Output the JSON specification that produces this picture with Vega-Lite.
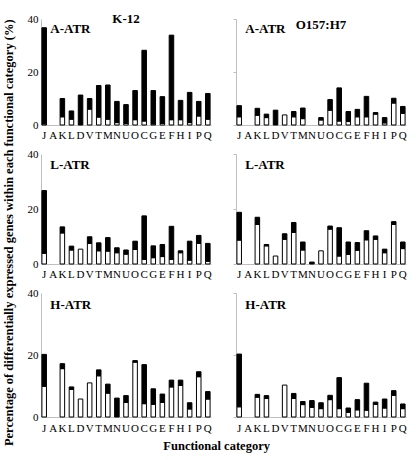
{
"$schema": "https://vega.github.io/schema/vega-lite/v6.json",
"padding": {"left": 2, "top": 13, "right": 4, "bottom": 4},
"background": "white",
"config": {
  "view": {"stroke": null},
  "font": "Liberation Serif",
  "axis": {"labelFont": "Liberation Serif", "labelColor": "#000000", "labelFontSize": 11, "domainColor": "#bfbfbf", "grid": false, "title": null},
  "title": {"font": "Liberation Serif", "fontWeight": "bold", "color": "#000000"}
},
"datasets": {
"d": [
{"s":"K-12","c":"A-ATR","cat":"J","p":"white","v":0.4},{"s":"K-12","c":"A-ATR","cat":"J","p":"black","v":36.3},
{"s":"K-12","c":"A-ATR","cat":"K","p":"white","v":3.1},{"s":"K-12","c":"A-ATR","cat":"K","p":"black","v":6.9},
{"s":"K-12","c":"A-ATR","cat":"L","p":"white","v":2.2},{"s":"K-12","c":"A-ATR","cat":"L","p":"black","v":3.1},
{"s":"K-12","c":"A-ATR","cat":"D","p":"black","v":11.3},
{"s":"K-12","c":"A-ATR","cat":"V","p":"white","v":6},{"s":"K-12","c":"A-ATR","cat":"V","p":"black","v":4},
{"s":"K-12","c":"A-ATR","cat":"T","p":"white","v":3},{"s":"K-12","c":"A-ATR","cat":"T","p":"black","v":11.9},
{"s":"K-12","c":"A-ATR","cat":"M","p":"white","v":2.2},{"s":"K-12","c":"A-ATR","cat":"M","p":"black","v":12.9},
{"s":"K-12","c":"A-ATR","cat":"N","p":"white","v":0.9},{"s":"K-12","c":"A-ATR","cat":"N","p":"black","v":8},
{"s":"K-12","c":"A-ATR","cat":"U","p":"white","v":0.6},{"s":"K-12","c":"A-ATR","cat":"U","p":"black","v":7.1},
{"s":"K-12","c":"A-ATR","cat":"O","p":"white","v":2},{"s":"K-12","c":"A-ATR","cat":"O","p":"black","v":11},
{"s":"K-12","c":"A-ATR","cat":"C","p":"white","v":1.5},{"s":"K-12","c":"A-ATR","cat":"C","p":"black","v":26.7},
{"s":"K-12","c":"A-ATR","cat":"G","p":"white","v":0.4},{"s":"K-12","c":"A-ATR","cat":"G","p":"black","v":12.6},
{"s":"K-12","c":"A-ATR","cat":"E","p":"white","v":0.6},{"s":"K-12","c":"A-ATR","cat":"E","p":"black","v":10.1},
{"s":"K-12","c":"A-ATR","cat":"F","p":"white","v":2},{"s":"K-12","c":"A-ATR","cat":"F","p":"black","v":31.9},
{"s":"K-12","c":"A-ATR","cat":"H","p":"white","v":2},{"s":"K-12","c":"A-ATR","cat":"H","p":"black","v":7.3},
{"s":"K-12","c":"A-ATR","cat":"I","p":"white","v":0.9},{"s":"K-12","c":"A-ATR","cat":"I","p":"black","v":11.4},
{"s":"K-12","c":"A-ATR","cat":"P","p":"white","v":3.4},{"s":"K-12","c":"A-ATR","cat":"P","p":"black","v":5.5},
{"s":"K-12","c":"A-ATR","cat":"Q","p":"white","v":2.2},{"s":"K-12","c":"A-ATR","cat":"Q","p":"black","v":9.7},

{"s":"O157:H7","c":"A-ATR","cat":"J","p":"white","v":3.1},{"s":"O157:H7","c":"A-ATR","cat":"J","p":"black","v":4.2},
{"s":"O157:H7","c":"A-ATR","cat":"K","p":"white","v":3.7},{"s":"O157:H7","c":"A-ATR","cat":"K","p":"black","v":2.6},
{"s":"O157:H7","c":"A-ATR","cat":"L","p":"white","v":2.8},{"s":"O157:H7","c":"A-ATR","cat":"L","p":"black","v":1.3},
{"s":"O157:H7","c":"A-ATR","cat":"D","p":"black","v":5.6},
{"s":"O157:H7","c":"A-ATR","cat":"V","p":"white","v":3.8},
{"s":"O157:H7","c":"A-ATR","cat":"T","p":"white","v":3.1},{"s":"O157:H7","c":"A-ATR","cat":"T","p":"black","v":2},
{"s":"O157:H7","c":"A-ATR","cat":"M","p":"white","v":2.4},{"s":"O157:H7","c":"A-ATR","cat":"M","p":"black","v":4},
{"s":"O157:H7","c":"A-ATR","cat":"U","p":"white","v":1.9},{"s":"O157:H7","c":"A-ATR","cat":"U","p":"black","v":0.9},
{"s":"O157:H7","c":"A-ATR","cat":"O","p":"white","v":5.6},{"s":"O157:H7","c":"A-ATR","cat":"O","p":"black","v":4},
{"s":"O157:H7","c":"A-ATR","cat":"C","p":"white","v":1.5},{"s":"O157:H7","c":"A-ATR","cat":"C","p":"black","v":12.5},
{"s":"O157:H7","c":"A-ATR","cat":"G","p":"white","v":1.3},{"s":"O157:H7","c":"A-ATR","cat":"G","p":"black","v":3.8},
{"s":"O157:H7","c":"A-ATR","cat":"E","p":"white","v":3.1},{"s":"O157:H7","c":"A-ATR","cat":"E","p":"black","v":2.8},
{"s":"O157:H7","c":"A-ATR","cat":"F","p":"white","v":3.1},{"s":"O157:H7","c":"A-ATR","cat":"F","p":"black","v":7.7},
{"s":"O157:H7","c":"A-ATR","cat":"H","p":"white","v":4.1},{"s":"O157:H7","c":"A-ATR","cat":"H","p":"black","v":0.6},
{"s":"O157:H7","c":"A-ATR","cat":"I","p":"white","v":0.8},{"s":"O157:H7","c":"A-ATR","cat":"I","p":"black","v":2},
{"s":"O157:H7","c":"A-ATR","cat":"P","p":"white","v":8.3},{"s":"O157:H7","c":"A-ATR","cat":"P","p":"black","v":1.8},
{"s":"O157:H7","c":"A-ATR","cat":"Q","p":"white","v":4.4},{"s":"O157:H7","c":"A-ATR","cat":"Q","p":"black","v":2.6},

{"s":"K-12","c":"L-ATR","cat":"J","p":"white","v":3.9},{"s":"K-12","c":"L-ATR","cat":"J","p":"black","v":22.8},
{"s":"K-12","c":"L-ATR","cat":"K","p":"white","v":11.3},{"s":"K-12","c":"L-ATR","cat":"K","p":"black","v":2.2},
{"s":"K-12","c":"L-ATR","cat":"L","p":"white","v":5.1},{"s":"K-12","c":"L-ATR","cat":"L","p":"black","v":1.4},
{"s":"K-12","c":"L-ATR","cat":"D","p":"white","v":5.4},
{"s":"K-12","c":"L-ATR","cat":"V","p":"white","v":7.5},{"s":"K-12","c":"L-ATR","cat":"V","p":"black","v":2.4},
{"s":"K-12","c":"L-ATR","cat":"T","p":"white","v":4.8},{"s":"K-12","c":"L-ATR","cat":"T","p":"black","v":2.9},
{"s":"K-12","c":"L-ATR","cat":"M","p":"white","v":4.7},{"s":"K-12","c":"L-ATR","cat":"M","p":"black","v":4.9},
{"s":"K-12","c":"L-ATR","cat":"N","p":"white","v":4.1},{"s":"K-12","c":"L-ATR","cat":"N","p":"black","v":1.8},
{"s":"K-12","c":"L-ATR","cat":"U","p":"white","v":3.6},{"s":"K-12","c":"L-ATR","cat":"U","p":"black","v":1.5},
{"s":"K-12","c":"L-ATR","cat":"O","p":"white","v":5.3},{"s":"K-12","c":"L-ATR","cat":"O","p":"black","v":3},
{"s":"K-12","c":"L-ATR","cat":"C","p":"white","v":1.7},{"s":"K-12","c":"L-ATR","cat":"C","p":"black","v":15.8},
{"s":"K-12","c":"L-ATR","cat":"G","p":"white","v":2.3},{"s":"K-12","c":"L-ATR","cat":"G","p":"black","v":4.3},
{"s":"K-12","c":"L-ATR","cat":"E","p":"white","v":2.7},{"s":"K-12","c":"L-ATR","cat":"E","p":"black","v":4.4},
{"s":"K-12","c":"L-ATR","cat":"F","p":"white","v":1.7},{"s":"K-12","c":"L-ATR","cat":"F","p":"black","v":12},
{"s":"K-12","c":"L-ATR","cat":"H","p":"white","v":4.1},{"s":"K-12","c":"L-ATR","cat":"H","p":"black","v":0.7},
{"s":"K-12","c":"L-ATR","cat":"I","p":"white","v":1.4},{"s":"K-12","c":"L-ATR","cat":"I","p":"black","v":6.9},
{"s":"K-12","c":"L-ATR","cat":"P","p":"white","v":7.5},{"s":"K-12","c":"L-ATR","cat":"P","p":"black","v":2.9},
{"s":"K-12","c":"L-ATR","cat":"Q","p":"white","v":1},{"s":"K-12","c":"L-ATR","cat":"Q","p":"black","v":6.5},

{"s":"O157:H7","c":"L-ATR","cat":"J","p":"white","v":8.7},{"s":"O157:H7","c":"L-ATR","cat":"J","p":"black","v":10.1},
{"s":"O157:H7","c":"L-ATR","cat":"K","p":"white","v":14.4},{"s":"O157:H7","c":"L-ATR","cat":"K","p":"black","v":2.6},
{"s":"O157:H7","c":"L-ATR","cat":"L","p":"white","v":6.6},{"s":"O157:H7","c":"L-ATR","cat":"L","p":"black","v":0.5},
{"s":"O157:H7","c":"L-ATR","cat":"D","p":"white","v":2.9},
{"s":"O157:H7","c":"L-ATR","cat":"V","p":"white","v":9},{"s":"O157:H7","c":"L-ATR","cat":"V","p":"black","v":2},
{"s":"O157:H7","c":"L-ATR","cat":"T","p":"white","v":11.5},{"s":"O157:H7","c":"L-ATR","cat":"T","p":"black","v":3.6},
{"s":"O157:H7","c":"L-ATR","cat":"M","p":"white","v":5.1},{"s":"O157:H7","c":"L-ATR","cat":"M","p":"black","v":2.9},
{"s":"O157:H7","c":"L-ATR","cat":"N","p":"black","v":0.7},
{"s":"O157:H7","c":"L-ATR","cat":"U","p":"white","v":4.8},
{"s":"O157:H7","c":"L-ATR","cat":"O","p":"white","v":12.7},{"s":"O157:H7","c":"L-ATR","cat":"O","p":"black","v":1.1},
{"s":"O157:H7","c":"L-ATR","cat":"C","p":"white","v":2.9},{"s":"O157:H7","c":"L-ATR","cat":"C","p":"black","v":10.3},
{"s":"O157:H7","c":"L-ATR","cat":"G","p":"white","v":3.5},{"s":"O157:H7","c":"L-ATR","cat":"G","p":"black","v":4.5},
{"s":"O157:H7","c":"L-ATR","cat":"E","p":"white","v":5},{"s":"O157:H7","c":"L-ATR","cat":"E","p":"black","v":2.8},
{"s":"O157:H7","c":"L-ATR","cat":"F","p":"white","v":8.8},{"s":"O157:H7","c":"L-ATR","cat":"F","p":"black","v":3.3},
{"s":"O157:H7","c":"L-ATR","cat":"H","p":"white","v":9},{"s":"O157:H7","c":"L-ATR","cat":"H","p":"black","v":1.2},
{"s":"O157:H7","c":"L-ATR","cat":"I","p":"white","v":4.1},{"s":"O157:H7","c":"L-ATR","cat":"I","p":"black","v":1.3},
{"s":"O157:H7","c":"L-ATR","cat":"P","p":"white","v":14.4},{"s":"O157:H7","c":"L-ATR","cat":"P","p":"black","v":1},
{"s":"O157:H7","c":"L-ATR","cat":"Q","p":"white","v":5.6},{"s":"O157:H7","c":"L-ATR","cat":"Q","p":"black","v":2.4},

{"s":"K-12","c":"H-ATR","cat":"J","p":"white","v":9.9},{"s":"K-12","c":"H-ATR","cat":"J","p":"black","v":10.3},
{"s":"K-12","c":"H-ATR","cat":"K","p":"white","v":15.6},{"s":"K-12","c":"H-ATR","cat":"K","p":"black","v":1.6},
{"s":"K-12","c":"H-ATR","cat":"L","p":"white","v":8.9},{"s":"K-12","c":"H-ATR","cat":"L","p":"black","v":0.8},
{"s":"K-12","c":"H-ATR","cat":"D","p":"white","v":5.8},
{"s":"K-12","c":"H-ATR","cat":"V","p":"white","v":11},
{"s":"K-12","c":"H-ATR","cat":"T","p":"white","v":13.3},{"s":"K-12","c":"H-ATR","cat":"T","p":"black","v":1.9},
{"s":"K-12","c":"H-ATR","cat":"M","p":"white","v":7.7},{"s":"K-12","c":"H-ATR","cat":"M","p":"black","v":2.9},
{"s":"K-12","c":"H-ATR","cat":"N","p":"black","v":6.1},
{"s":"K-12","c":"H-ATR","cat":"U","p":"white","v":4.7},{"s":"K-12","c":"H-ATR","cat":"U","p":"black","v":2.2},
{"s":"K-12","c":"H-ATR","cat":"O","p":"white","v":17.7},{"s":"K-12","c":"H-ATR","cat":"O","p":"black","v":0.5},
{"s":"K-12","c":"H-ATR","cat":"C","p":"white","v":4.3},{"s":"K-12","c":"H-ATR","cat":"C","p":"black","v":12.6},
{"s":"K-12","c":"H-ATR","cat":"G","p":"white","v":4.1},{"s":"K-12","c":"H-ATR","cat":"G","p":"black","v":5},
{"s":"K-12","c":"H-ATR","cat":"E","p":"white","v":4.7},{"s":"K-12","c":"H-ATR","cat":"E","p":"black","v":2.7},
{"s":"K-12","c":"H-ATR","cat":"F","p":"white","v":9.7},{"s":"K-12","c":"H-ATR","cat":"F","p":"black","v":2.2},
{"s":"K-12","c":"H-ATR","cat":"H","p":"white","v":10.2},{"s":"K-12","c":"H-ATR","cat":"H","p":"black","v":1.7},
{"s":"K-12","c":"H-ATR","cat":"I","p":"white","v":2.6},{"s":"K-12","c":"H-ATR","cat":"I","p":"black","v":2},
{"s":"K-12","c":"H-ATR","cat":"P","p":"white","v":13},{"s":"K-12","c":"H-ATR","cat":"P","p":"black","v":1.6},
{"s":"K-12","c":"H-ATR","cat":"Q","p":"white","v":5.8},{"s":"K-12","c":"H-ATR","cat":"Q","p":"black","v":2.4},

{"s":"O157:H7","c":"H-ATR","cat":"J","p":"white","v":3.3},{"s":"O157:H7","c":"H-ATR","cat":"J","p":"black","v":17},
{"s":"O157:H7","c":"H-ATR","cat":"K","p":"white","v":6.4},{"s":"O157:H7","c":"H-ATR","cat":"K","p":"black","v":0.9},
{"s":"O157:H7","c":"H-ATR","cat":"L","p":"white","v":6},{"s":"O157:H7","c":"H-ATR","cat":"L","p":"black","v":0.9},
{"s":"O157:H7","c":"H-ATR","cat":"V","p":"white","v":10.3},
{"s":"O157:H7","c":"H-ATR","cat":"T","p":"white","v":6},{"s":"O157:H7","c":"H-ATR","cat":"T","p":"black","v":1.6},
{"s":"O157:H7","c":"H-ATR","cat":"M","p":"white","v":4},{"s":"O157:H7","c":"H-ATR","cat":"M","p":"black","v":1},
{"s":"O157:H7","c":"H-ATR","cat":"N","p":"white","v":3.1},{"s":"O157:H7","c":"H-ATR","cat":"N","p":"black","v":2.2},
{"s":"O157:H7","c":"H-ATR","cat":"U","p":"white","v":2.7},{"s":"O157:H7","c":"H-ATR","cat":"U","p":"black","v":1.9},
{"s":"O157:H7","c":"H-ATR","cat":"O","p":"white","v":5.6},{"s":"O157:H7","c":"H-ATR","cat":"O","p":"black","v":1.4},
{"s":"O157:H7","c":"H-ATR","cat":"C","p":"white","v":2.7},{"s":"O157:H7","c":"H-ATR","cat":"C","p":"black","v":10},
{"s":"O157:H7","c":"H-ATR","cat":"G","p":"white","v":1.5},{"s":"O157:H7","c":"H-ATR","cat":"G","p":"black","v":1.4},
{"s":"O157:H7","c":"H-ATR","cat":"E","p":"white","v":2.3},{"s":"O157:H7","c":"H-ATR","cat":"E","p":"black","v":3.3},
{"s":"O157:H7","c":"H-ATR","cat":"F","p":"white","v":2.2},{"s":"O157:H7","c":"H-ATR","cat":"F","p":"black","v":8.7},
{"s":"O157:H7","c":"H-ATR","cat":"H","p":"white","v":4.1},{"s":"O157:H7","c":"H-ATR","cat":"H","p":"black","v":0.7},
{"s":"O157:H7","c":"H-ATR","cat":"I","p":"white","v":2.9},{"s":"O157:H7","c":"H-ATR","cat":"I","p":"black","v":2.9},
{"s":"O157:H7","c":"H-ATR","cat":"P","p":"white","v":7},{"s":"O157:H7","c":"H-ATR","cat":"P","p":"black","v":1.5},
{"s":"O157:H7","c":"H-ATR","cat":"Q","p":"white","v":2.7},{"s":"O157:H7","c":"H-ATR","cat":"Q","p":"black","v":1.5}
]
},
"title": {"text": "Percentage of differentially expressed genes within each functional category (%)", "orient": "left", "anchor": "middle", "fontSize": 12.5, "offset": 12},
"spacing": 8,
"vconcat": [
 {"hconcat": [
  {"width": 170, "height": 106, "title": {"text": "K-12", "fontSize": 13, "offset": -13, "frame": "group"},
   "layer": [
    {"data": {"name": "d"}, "transform": [{"filter": "datum.s === 'K-12' && datum.c === 'A-ATR'"}],
     "mark": {"type": "bar", "stroke": "#000000", "strokeWidth": 1},
     "encoding": {
      "x": {"field": "cat", "type": "nominal", "scale": {"domain": ["J","A","K","L","D","V","T","M","N","U","O","C","G","E","F","H","I","P","Q"], "paddingInner": 0.5, "paddingOuter": 0.1}, "axis": {"labelAngle": 0, "ticks": false, "labelOverlap": false, "labelPadding": 4, "labelFont": "Liberation Serif", "labelFontSize": 11}},
      "y": {"field": "v", "type": "quantitative", "stack": "zero", "scale": {"domain": [0, 40]}, "axis": {"values": [0,5,10,15,20,25,30,35,40], "ticks": false, "labelPadding": 3, "labelFont": "Liberation Serif", "labelFontSize": 11}},
      "color": {"field": "p", "type": "nominal", "scale": {"domain": ["white","black"], "range": ["#ffffff","#000000"]}, "legend": null},
      "order": {"field": "p", "sort": "descending"}}},
    {"data": {"values": [{"label": "A-ATR"}]},
     "mark": {"type": "text", "align": "left", "baseline": "alphabetic", "fontWeight": "bold", "fontSize": 13, "font": "Liberation Serif", "dx": -3},
     "encoding": {"x": {"datum": "A", "type": "nominal"}, "y": {"datum": 34.7, "type": "quantitative"}, "text": {"field": "label"}}}
   ]},
  {"width": 170, "height": 106, "title": {"text": "O157:H7", "fontSize": 13, "offset": -13, "frame": "group"},
   "layer": [
    {"data": {"name": "d"}, "transform": [{"filter": "datum.s === 'O157:H7' && datum.c === 'A-ATR'"}],
     "mark": {"type": "bar", "stroke": "#000000", "strokeWidth": 1},
     "encoding": {
      "x": {"field": "cat", "type": "nominal", "scale": {"domain": ["J","A","K","L","D","V","T","M","N","U","O","C","G","E","F","H","I","P","Q"], "paddingInner": 0.5, "paddingOuter": 0.1}, "axis": {"labelAngle": 0, "ticks": false, "labelOverlap": false, "labelPadding": 4, "labelFont": "Liberation Serif", "labelFontSize": 11}},
      "y": {"field": "v", "type": "quantitative", "stack": "zero", "scale": {"domain": [0, 40]}, "axis": {"values": [0,5,10,15,20,25,30,35,40], "labels": false, "tickSize": 3, "tickColor": "#bfbfbf"}},
      "color": {"field": "p", "type": "nominal", "scale": {"domain": ["white","black"], "range": ["#ffffff","#000000"]}, "legend": null},
      "order": {"field": "p", "sort": "descending"}}},
    {"data": {"values": [{"label": "A-ATR"}]},
     "mark": {"type": "text", "align": "left", "baseline": "alphabetic", "fontWeight": "bold", "fontSize": 13, "font": "Liberation Serif", "dx": -3},
     "encoding": {"x": {"datum": "A", "type": "nominal"}, "y": {"datum": 34.7, "type": "quantitative"}, "text": {"field": "label"}}}
   ]}
 ], "spacing": 25, "bounds": "flush"},
 {"hconcat": [
  {"width": 170, "height": 110,
   "layer": [
    {"data": {"name": "d"}, "transform": [{"filter": "datum.s === 'K-12' && datum.c === 'L-ATR'"}],
     "mark": {"type": "bar", "stroke": "#000000", "strokeWidth": 1},
     "encoding": {
      "x": {"field": "cat", "type": "nominal", "scale": {"domain": ["J","A","K","L","D","V","T","M","N","U","O","C","G","E","F","H","I","P","Q"], "paddingInner": 0.5, "paddingOuter": 0.1}, "axis": {"labelAngle": 0, "ticks": false, "labelOverlap": false, "labelPadding": 4, "labelFont": "Liberation Serif", "labelFontSize": 11}},
      "y": {"field": "v", "type": "quantitative", "stack": "zero", "scale": {"domain": [0, 40]}, "axis": {"values": [0,5,10,15,20,25,30,35,40], "ticks": false, "labelPadding": 3, "labelFont": "Liberation Serif", "labelFontSize": 11}},
      "color": {"field": "p", "type": "nominal", "scale": {"domain": ["white","black"], "range": ["#ffffff","#000000"]}, "legend": null},
      "order": {"field": "p", "sort": "descending"}}},
    {"data": {"values": [{"label": "L-ATR"}]},
     "mark": {"type": "text", "align": "left", "baseline": "alphabetic", "fontWeight": "bold", "fontSize": 13, "font": "Liberation Serif", "dx": -3},
     "encoding": {"x": {"datum": "A", "type": "nominal"}, "y": {"datum": 34.7, "type": "quantitative"}, "text": {"field": "label"}}}
   ]},
  {"width": 170, "height": 110,
   "layer": [
    {"data": {"name": "d"}, "transform": [{"filter": "datum.s === 'O157:H7' && datum.c === 'L-ATR'"}],
     "mark": {"type": "bar", "stroke": "#000000", "strokeWidth": 1},
     "encoding": {
      "x": {"field": "cat", "type": "nominal", "scale": {"domain": ["J","A","K","L","D","V","T","M","N","U","O","C","G","E","F","H","I","P","Q"], "paddingInner": 0.5, "paddingOuter": 0.1}, "axis": {"labelAngle": 0, "ticks": false, "labelOverlap": false, "labelPadding": 4, "labelFont": "Liberation Serif", "labelFontSize": 11}},
      "y": {"field": "v", "type": "quantitative", "stack": "zero", "scale": {"domain": [0, 40]}, "axis": {"values": [0,5,10,15,20,25,30,35,40], "labels": false, "tickSize": 3, "tickColor": "#bfbfbf"}},
      "color": {"field": "p", "type": "nominal", "scale": {"domain": ["white","black"], "range": ["#ffffff","#000000"]}, "legend": null},
      "order": {"field": "p", "sort": "descending"}}},
    {"data": {"values": [{"label": "L-ATR"}]},
     "mark": {"type": "text", "align": "left", "baseline": "alphabetic", "fontWeight": "bold", "fontSize": 13, "font": "Liberation Serif", "dx": -3},
     "encoding": {"x": {"datum": "A", "type": "nominal"}, "y": {"datum": 34.7, "type": "quantitative"}, "text": {"field": "label"}}}
   ]}
 ], "spacing": 25, "bounds": "flush"},
 {"hconcat": [
  {"width": 170, "height": 124,
   "layer": [
    {"data": {"name": "d"}, "transform": [{"filter": "datum.s === 'K-12' && datum.c === 'H-ATR'"}],
     "mark": {"type": "bar", "stroke": "#000000", "strokeWidth": 1},
     "encoding": {
      "x": {"field": "cat", "type": "nominal", "scale": {"domain": ["J","A","K","L","D","V","T","M","N","U","O","C","G","E","F","H","I","P","Q"], "paddingInner": 0.5, "paddingOuter": 0.1}, "axis": {"labelAngle": 0, "ticks": false, "labelOverlap": false, "labelPadding": 5, "labelFont": "Liberation Serif", "labelFontSize": 11}},
      "y": {"field": "v", "type": "quantitative", "stack": "zero", "scale": {"domain": [0, 40]}, "axis": {"values": [0,5,10,15,20,25,30,35,40], "ticks": false, "labelPadding": 3, "labelFont": "Liberation Serif", "labelFontSize": 11}},
      "color": {"field": "p", "type": "nominal", "scale": {"domain": ["white","black"], "range": ["#ffffff","#000000"]}, "legend": null},
      "order": {"field": "p", "sort": "descending"}}},
    {"data": {"values": [{"label": "H-ATR"}]},
     "mark": {"type": "text", "align": "left", "baseline": "alphabetic", "fontWeight": "bold", "fontSize": 13, "font": "Liberation Serif", "dx": -3},
     "encoding": {"x": {"datum": "A", "type": "nominal"}, "y": {"datum": 34.7, "type": "quantitative"}, "text": {"field": "label"}}}
   ]},
  {"width": 170, "height": 124,
   "layer": [
    {"data": {"name": "d"}, "transform": [{"filter": "datum.s === 'O157:H7' && datum.c === 'H-ATR'"}],
     "mark": {"type": "bar", "stroke": "#000000", "strokeWidth": 1},
     "encoding": {
      "x": {"field": "cat", "type": "nominal", "scale": {"domain": ["J","A","K","L","D","V","T","M","N","U","O","C","G","E","F","H","I","P","Q"], "paddingInner": 0.5, "paddingOuter": 0.1}, "axis": {"labelAngle": 0, "ticks": false, "labelOverlap": false, "labelPadding": 5, "labelFont": "Liberation Serif", "labelFontSize": 11}},
      "y": {"field": "v", "type": "quantitative", "stack": "zero", "scale": {"domain": [0, 40]}, "axis": {"values": [0,5,10,15,20,25,30,35,40], "labels": false, "tickSize": 3, "tickColor": "#bfbfbf"}},
      "color": {"field": "p", "type": "nominal", "scale": {"domain": ["white","black"], "range": ["#ffffff","#000000"]}, "legend": null},
      "order": {"field": "p", "sort": "descending"}}},
    {"data": {"values": [{"label": "H-ATR"}]},
     "mark": {"type": "text", "align": "left", "baseline": "alphabetic", "fontWeight": "bold", "fontSize": 13, "font": "Liberation Serif", "dx": -3},
     "encoding": {"x": {"datum": "A", "type": "nominal"}, "y": {"datum": 34.7, "type": "quantitative"}, "text": {"field": "label"}}}
   ]}
 ], "spacing": 25, "bounds": "flush",
 "title": {"text": "Functional category", "orient": "bottom", "anchor": "middle", "fontSize": 12.5, "offset": 7}}
]
}
